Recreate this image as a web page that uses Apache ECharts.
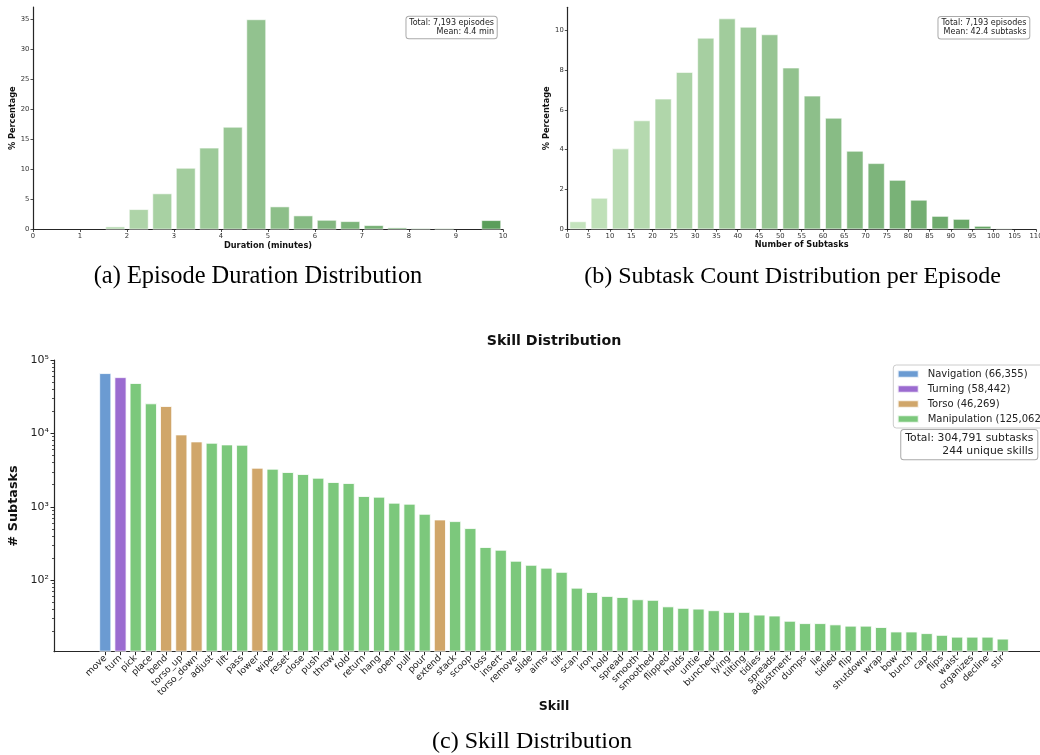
<!DOCTYPE html>
<html>
<head>
<meta charset="utf-8">
<script src="https://cdn.jsdelivr.net/npm/echarts@6/dist/echarts.min.js"></script>
<style>
html,body{margin:0;padding:0;background:#fff;}
#c{width:1040px;height:755px;}
</style>
</head>
<body>
<div id="c"></div>
<script>
// ---------- (a) Episode duration ----------
const durationBinCenters = [0.25,0.75,1.25,1.75,2.25,2.75,3.25,3.75,4.25,4.75,5.25,5.75,6.25,6.75,7.25,7.75,8.25,8.75,9.25,9.75];
const durationPercent    = [0,0,0,0.5,3.38,6.0,10.25,13.6,17.08,34.95,3.83,2.33,1.6,1.38,0.72,0.33,0.22,0.2,0,1.55];
const durationXTicks = [0,1,2,3,4,5,6,7,8,9,10];
const durationYTicks = [0,5,10,15,20,25,30,35];
const durationSummary = ['Total: 7,193 episodes','Mean: 4.4 min'];

// ---------- (b) Subtask count ----------
const subtaskBinCenters = [2.5,7.5,12.5,17.5,22.5,27.5,32.5,37.5,42.5,47.5,52.5,57.5,62.5,67.5,72.5,77.5,82.5,87.5,92.5,97.5,102.5,107.5];
const subtaskPercent    = [0.4,1.58,4.06,5.47,6.56,7.9,9.62,10.59,10.17,9.79,8.12,6.71,5.6,3.94,3.32,2.48,1.48,0.67,0.52,0.17,0.05,0];
const subtaskXTicks = [0,5,10,15,20,25,30,35,40,45,50,55,60,65,70,75,80,85,90,95,100,105,110];
const subtaskYTicks = [0,2,4,6,8,10];
const subtaskSummary = ['Total: 7,193 episodes','Mean: 42.4 subtasks'];

// ---------- (c) Skill distribution ----------
const skills = ['move','turn','pick','place','bend','torso_up','torso_down','adjust','lift','pass','lower','wipe','reset','close','push','throw','fold','return','hang','open','pull','pour','extend','stack','scoop','loss','insert','remove','slide','aims','tilt','scan','iron','hold','spread','smooth','smoothed','flipped','holds','untie','bunched','lying','tilting','tidies','spreads','adjustment','dumps','lie','tidied','flip','shutdown','wrap','bow','bunch','cap','flips','waist','organizes','decline','stir'];
const skillCounts = [66355,58442,48600,25700,23620,9690,7780,7460,7080,7010,3408,3305,2977,2795,2490,2175,2107,1402,1374,1138,1102,803,672,638,513,283,260,184,162,148,130,79,69,61,59,55,54,44,42,41,39,37,37,34,33,28,26,26,25,24,24,23,20,20,19,18,17,17,17,16];
const skillGroups = ['Navigation','Turning','Manipulation','Manipulation','Torso','Torso','Torso','Manipulation','Manipulation','Manipulation','Torso','Manipulation','Manipulation','Manipulation','Manipulation','Manipulation','Manipulation','Manipulation','Manipulation','Manipulation','Manipulation','Manipulation','Torso','Manipulation','Manipulation','Manipulation','Manipulation','Manipulation','Manipulation','Manipulation','Manipulation','Manipulation','Manipulation','Manipulation','Manipulation','Manipulation','Manipulation','Manipulation','Manipulation','Manipulation','Manipulation','Manipulation','Manipulation','Manipulation','Manipulation','Manipulation','Manipulation','Manipulation','Manipulation','Manipulation','Manipulation','Manipulation','Manipulation','Manipulation','Manipulation','Manipulation','Manipulation','Manipulation','Manipulation','Manipulation'];
const groupNames  = ['Navigation','Turning','Torso','Manipulation'];
const groupTotals = [66355,58442,46269,125062];
const skillYTicks = [100,1000,10000,100000];
const skillYMinorTicks = [20,30,40,50,60,70,80,90,200,300,400,500,600,700,800,900,2000,3000,4000,5000,6000,7000,8000,9000,20000,30000,40000,50000,60000,70000,80000,90000];
const skillSummary = ['Total: 304,791 subtasks','244 unique skills'];

const captions = ['(a) Episode Duration Distribution','(b) Subtask Count Distribution per Episode','(c) Skill Distribution'];

// ---------- styling ----------
const FONT = 'DejaVu Sans';
const AXC = '#262626';
const TXT = '#222';
const groupColors = ['#6b9bd2','#9b6bd0','#d0a66a','#7cc87c'];

function hex2rgb(h){return [1,3,5].map(i=>parseInt(h.substr(i,2),16));}
function lerpColor(a,b,t){
  const A=hex2rgb(a),B=hex2rgb(b);
  return 'rgb('+A.map((v,i)=>Math.round(v+(B[i]-v)*t)).join(',')+')';
}
const LIGHT='#c4e3bd', DARK='#5b9e5b';
const SMALL = 6.8;

function smallAxis(extra){
  return Object.assign({
    type:'value',
    axisLine:{show:true,onZero:false,lineStyle:{color:AXC,width:1.2}},
    splitLine:{show:false},
    nameLocation:'middle',
    nameTextStyle:{fontFamily:FONT,fontSize:8.2,fontWeight:'bold',color:'#111'}
  },extra);
}
function ticks(vals){return {show:true,length:2.5,lineStyle:{color:AXC,width:0.8},customValues:vals};}
function labels(vals,m){return {fontFamily:FONT,fontSize:SMALL,color:'#333',margin:m,customValues:vals};}

const xAxes = [
  smallAxis({gridIndex:0,min:0,max:10,name:'Duration (minutes)',nameGap:12,
    axisTick:ticks(durationXTicks),axisLabel:labels(durationXTicks,3.4)}),
  smallAxis({gridIndex:1,min:0,max:110,name:'Number of Subtasks',nameGap:12,
    axisTick:ticks(subtaskXTicks),axisLabel:labels(subtaskXTicks,3.4)}),
  {
    gridIndex:2,type:'value',min:-3.37,max:62.37,
    axisLine:{show:true,onZero:false,lineStyle:{color:AXC,width:1.2}},
    axisTick:{show:true,length:3.5,lineStyle:{color:AXC,width:1},customValues:skills.map((s,i)=>i)},
    axisLabel:{fontFamily:FONT,fontSize:9.2,color:TXT,rotate:45,margin:5,
      customValues:skills.map((s,i)=>i),
      formatter:v=>skills[Math.round(v)]||''},
    splitLine:{show:false},
    name:'Skill',nameLocation:'middle',nameGap:49,
    nameTextStyle:{fontFamily:FONT,fontSize:12.6,fontWeight:'bold',color:'#111'}
  }
];

const SUP={'0':'\u2070','1':'\u00b9','2':'\u00b2','3':'\u00b3','4':'\u2074','5':'\u2075','6':'\u2076'};
const yAxes = [
  smallAxis({gridIndex:0,min:0,max:37,name:'% Percentage',nameGap:15.5,
    axisTick:ticks(durationYTicks),axisLabel:labels(durationYTicks,3.6)}),
  smallAxis({gridIndex:1,min:0,max:11.15,name:'% Percentage',nameGap:15.5,
    axisTick:ticks(subtaskYTicks),axisLabel:labels(subtaskYTicks,3.6)}),
  {
    gridIndex:2,type:'log',logBase:10,min:10.6,max:100000,startValue:10.6,position:'left',
    axisLine:{show:true,onZero:false,lineStyle:{color:AXC,width:1.2}},
    axisTick:{show:true,length:3.5,lineStyle:{color:AXC,width:1},customValues:skillYTicks},
    axisLabel:{fontFamily:FONT,fontSize:11,color:TXT,margin:5,customValues:skillYTicks,
      formatter:v=>{const e=Math.round(Math.log10(v));return '10'+String(e).split('').map(c=>SUP[c]).join('');}},
    splitLine:{show:false},
    name:'# Subtasks',nameLocation:'middle',nameGap:30,
    nameTextStyle:{fontFamily:FONT,fontSize:12.8,fontWeight:'bold',color:'#111'}
  },
  {
    gridIndex:2,type:'log',logBase:10,min:10.6,max:100000,position:'left',offset:0,
    axisLine:{show:false,onZero:false},
    axisTick:{show:true,length:2,lineStyle:{color:AXC,width:0.8},customValues:skillYMinorTicks},
    axisLabel:{show:false},
    splitLine:{show:false}
  }
];

const series = [
  {
    type:'bar',xAxisIndex:0,yAxisIndex:0,barWidth:'84%',
    data:durationBinCenters.map((x,i)=>({value:[x,durationPercent[i]],idx:i})).filter(d=>d.value[1]>0),
    itemStyle:{color:p=>lerpColor(LIGHT,DARK,p.data.idx/(durationBinCenters.length-1)),
      borderColor:'rgba(255,255,255,0.75)',borderWidth:0.8},
    silent:true
  },
  {
    type:'bar',xAxisIndex:1,yAxisIndex:1,barWidth:'80%',
    data:subtaskBinCenters.map((x,i)=>({value:[x,subtaskPercent[i]],idx:i})).filter(d=>d.value[1]>0),
    itemStyle:{color:p=>lerpColor(LIGHT,DARK,p.data.idx/(subtaskBinCenters.length-1)),
      borderColor:'rgba(255,255,255,0.75)',borderWidth:0.8},
    silent:true
  }
];
groupNames.forEach((g,gi)=>{
  series.push({
    name:g+' ('+groupTotals[gi].toLocaleString('en-US')+')',
    type:'bar',xAxisIndex:2,yAxisIndex:2,barWidth:12.2,barGap:'-100%',clip:true,
    data:skills.map((s,i)=>skillGroups[i]===g?[i,skillCounts[i]]:null).filter(d=>d),
    itemStyle:{color:groupColors[gi],borderColor:'rgba(255,255,255,0.8)',borderWidth:1},
    silent:true
  });
});

const boxStyle = {fontFamily:FONT,fill:TXT,align:'right',verticalAlign:'middle',
  backgroundColor:'#fff',borderColor:'#aaa',borderWidth:1,borderRadius:2.5};
const capStyle = {fontFamily:'Liberation Serif',fontSize:24,fill:'#000',align:'center',verticalAlign:'middle'};

const option = {
  animation:false,
  backgroundColor:'#fff',
  grid:[
    {left:33,top:7,width:470,height:222.5,outerBoundsMode:'none',containLabel:false},
    {left:567.3,top:7.3,width:468.7,height:222,outerBoundsMode:'none',containLabel:false},
    {left:54,top:360,width:1000,height:291.7,outerBoundsMode:'none',containLabel:false}
  ],
  xAxis:xAxes,
  yAxis:yAxes,
  legend:{
    data:groupNames.map((g,gi)=>g+' ('+groupTotals[gi].toLocaleString('en-US')+')'),
    orient:'vertical',left:893.3,top:365,itemWidth:21,itemHeight:7.5,itemGap:0,
    padding:[1.5,6,1.5,3.4],backgroundColor:'#fff',borderColor:'#ccc',borderWidth:1,borderRadius:3,
    icon:'rect',selectedMode:false,
    textStyle:{fontFamily:FONT,fontSize:10,color:TXT,lineHeight:15,height:15,padding:[0,0,0,4]}
  },
  graphic:[
    {type:'text',x:554,y:341.7,style:{text:'Skill Distribution',fontFamily:FONT,fontSize:14.2,fontWeight:'bold',fill:'#111',align:'center',verticalAlign:'middle'}},
    {type:'text',x:496.7,y:27.5,style:Object.assign({},boxStyle,{text:durationSummary.join('\n'),fontSize:8,lineHeight:9.3,padding:[1.5,2.7,1.5,2.7]})},
    {type:'text',x:1029.3,y:27.7,style:Object.assign({},boxStyle,{text:subtaskSummary.join('\n'),fontSize:8,lineHeight:9.3,padding:[1.5,3,1.5,3]})},
    {type:'text',x:1037.3,y:444.7,style:Object.assign({},boxStyle,{text:skillSummary.join('\n'),fontSize:10.8,lineHeight:12.6,padding:[2,4,2,4]})},
    {type:'text',x:258,y:276.5,style:Object.assign({},capStyle,{text:captions[0],fontSize:24.4})},
    {type:'text',x:792.5,y:276.5,style:Object.assign({},capStyle,{text:captions[1]})},
    {type:'text',x:532,y:742,style:Object.assign({},capStyle,{text:captions[2]})}
  ],
  series:series
};

const chart = echarts.init(document.getElementById('c'),null,{renderer:'canvas'});
chart.setOption(option);
</script>
</body>
</html>
